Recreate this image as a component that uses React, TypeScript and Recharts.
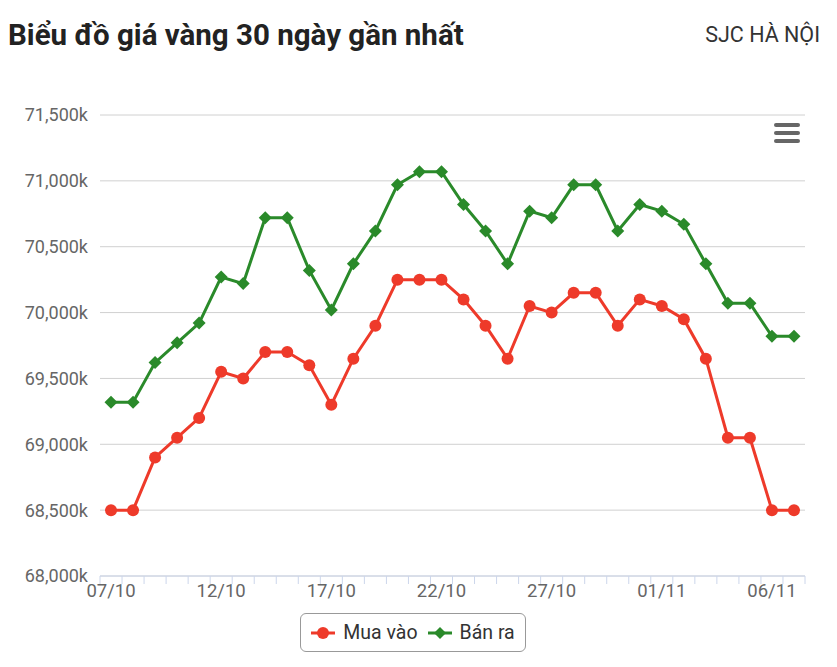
import { LineChart, Line, XAxis, YAxis, CartesianGrid } from 'recharts';

const DATES = [
  '07/10', '08/10', '09/10', '10/10', '11/10', '12/10', '13/10', '14/10',
  '15/10', '16/10', '17/10', '18/10', '19/10', '20/10', '21/10', '22/10',
  '23/10', '24/10', '25/10', '26/10', '27/10', '28/10', '29/10', '30/10',
  '31/10', '01/11', '02/11', '03/11', '04/11', '05/11', '06/11', '07/11',
];

// giá mua vào (nghìn đồng)
const MUA_VAO = [
  68500, 68500, 68900, 69050, 69200, 69550, 69500, 69700,
  69700, 69600, 69300, 69650, 69900, 70250, 70250, 70250,
  70100, 69900, 69650, 70050, 70000, 70150, 70150, 69900,
  70100, 70050, 69950, 69650, 69050, 69050, 68500, 68500,
];

// giá bán ra
const BAN_RA = [
  69320, 69320, 69620, 69770, 69920, 70270, 70220, 70720,
  70720, 70320, 70020, 70370, 70620, 70970, 71070, 71070,
  70820, 70620, 70370, 70770, 70720, 70970, 70970, 70620,
  70820, 70770, 70670, 70370, 70070, 70070, 69820, 69820,
];

const Y_TICKS = [68000, 68500, 69000, 69500, 70000, 70500, 71000, 71500];

const RED = '#ee3a2a';
const GREEN = '#2a8a2a';
const AXIS = '#ccd6eb';

const W = 821;
const H = 651;
const M = { top: 107, right: 24, left: 0, bottom: 53 };
const Y_W = 92;
const PLOT_W = W - M.left - M.right - Y_W;
const STEP = PLOT_W / DATES.length;

const chartData = DATES.map((date, i) => ({ date, mua: MUA_VAO[i], ban: BAN_RA[i] }));

const fmt = (v: number) => `${v.toLocaleString('en-US')}k`;

function DateTick(props: any) {
  const { x, y, payload, index } = props;
  return (
    <g>
      <line x1={x - STEP / 2} x2={x - STEP / 2} y1={y} y2={y + 8} stroke={AXIS} />
      {index === DATES.length - 1 && (
        <line x1={x + STEP / 2} x2={x + STEP / 2} y1={y} y2={y + 8} stroke={AXIS} />
      )}
      {index % 5 === 0 && (
        <text x={x} y={y + 15} textAnchor="middle" dominantBaseline="central" fill="#666" fontSize={18.5}>
          {payload.value}
        </text>
      )}
    </g>
  );
}

function Diamond(props: any) {
  const { cx, cy } = props;
  if (cx == null || cy == null) return null;
  const r = 6.5;
  return <path d={`M${cx},${cy - r}L${cx + r},${cy}L${cx},${cy + r}L${cx - r},${cy}Z`} fill={GREEN} />;
}

export default function App() {
  return (
    <div style={{ position: 'relative', width: W, height: H, fontFamily: 'Roboto, sans-serif', color: '#333' }}>
      <div style={{ position: 'absolute', left: 0, top: 10, fontSize: 29.5, lineHeight: '34px', fontWeight: 700, color: '#222' }}>
        Biểu đồ giá vàng 30 ngày gần nhất
      </div>
      <div style={{ position: 'absolute', right: 9, top: 14, fontSize: 21.5, lineHeight: '26px', color: '#333' }}>
        SJC HÀ NỘI
      </div>

      <LineChart width={W} height={H} data={chartData} margin={M}>
        <CartesianGrid vertical={false} stroke="#d0d0d0" />
        <XAxis
          dataKey="date"
          interval={0}
          padding={{ left: STEP / 2, right: STEP / 2 }}
          tick={<DateTick />}
          tickLine={false}
          tickSize={0}
          tickMargin={0}
          axisLine={{ stroke: AXIS }}
          height={30}
        />
        <YAxis
          domain={[68000, 71500]}
          ticks={Y_TICKS}
          tickFormatter={fmt}
          width={Y_W}
          axisLine={false}
          tickLine={false}
          tickSize={0}
          tickMargin={12}
          tick={{ fill: '#666', fontSize: 18 }}
        />
        <Line
          dataKey="mua"
          name="Mua vào"
          stroke={RED}
          strokeWidth={3}
          dot={{ r: 6, fill: RED, stroke: 'none' }}
          isAnimationActive={false}
        />
        <Line
          dataKey="ban"
          name="Bán ra"
          stroke={GREEN}
          strokeWidth={3}
          dot={<Diamond />}
          isAnimationActive={false}
        />
      </LineChart>

      <svg style={{ position: 'absolute', left: 764, top: 113 }} width={30} height={24}>
        <rect x={2} y={2} width={26} height={4} rx={2} fill="#666" />
        <rect x={2} y={10} width={26} height={4} rx={2} fill="#666" />
        <rect x={2} y={18} width={26} height={4} rx={2} fill="#666" />
      </svg>

      <div
        style={{
          position: 'absolute', left: 292, top: 605, width: 224, height: 37,
          border: '1px solid #999', borderRadius: 6, display: 'flex', alignItems: 'center',
          justifyContent: 'center', gap: 10, fontSize: 19.5, color: '#333',
        }}
      >
        <span style={{ display: 'flex', alignItems: 'center', gap: 8 }}>
          <svg width={24} height={14}>
            <line x1={0} x2={24} y1={7} y2={7} stroke={RED} strokeWidth={3} />
            <circle cx={12} cy={7} r={6} fill={RED} />
          </svg>
          Mua vào
        </span>
        <span style={{ display: 'flex', alignItems: 'center', gap: 8 }}>
          <svg width={24} height={14}>
            <line x1={0} x2={24} y1={7} y2={7} stroke={GREEN} strokeWidth={3} />
            <path d="M12,1L18,7L12,13L6,7Z" fill={GREEN} />
          </svg>
          Bán ra
        </span>
      </div>
    </div>
  );
}
